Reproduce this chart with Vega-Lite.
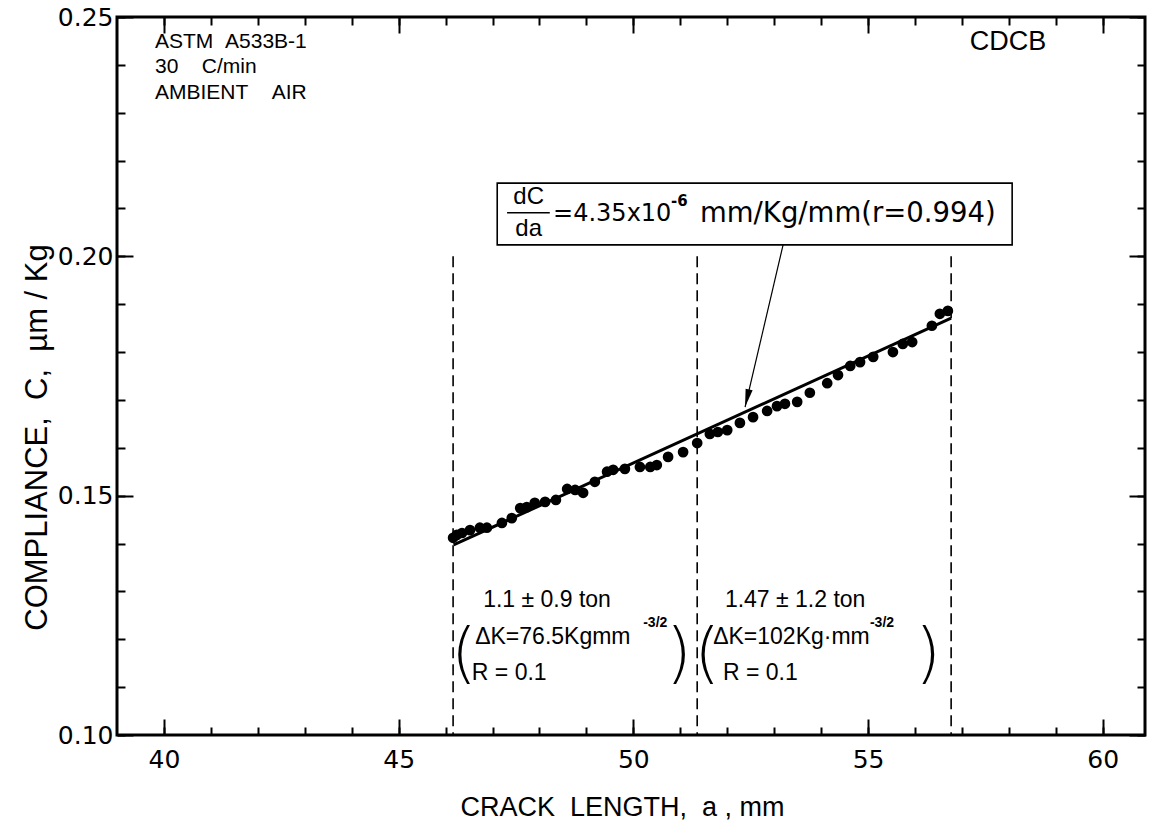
{
  "$schema": "https://vega.github.io/schema/vega-lite/v6.json",
  "width": 1028,
  "height": 718,
  "autosize": {"type": "none"},
  "padding": {"left": 117, "top": 17, "right": 7, "bottom": 96},
  "background": "white",
  "view": {"stroke": "black", "strokeWidth": 3},
  "data": {"values": [{}]},
  "config": {
    "axis": {
      "labelFont": "DejaVu Sans",
      "labelFontSize": 25,
      "labelColor": "black",
      "tickColor": "black",
      "tickWidth": 2,
      "domain": false,
      "grid": false,
      "titleFont": "Liberation Sans",
      "titleFontSize": 27,
      "titleFontWeight": "normal",
      "titleColor": "black"
    }
  },
  "resolve": {"axis": {"x": "independent", "y": "independent"}},
  "layer": [
    {
      "data": {"values": [
        {"a": 46.16, "C": 0.1412}, {"a": 46.24, "C": 0.1418}, {"a": 46.35, "C": 0.1422},
        {"a": 46.52, "C": 0.1428}, {"a": 46.73, "C": 0.1433}, {"a": 46.88, "C": 0.1433},
        {"a": 47.20, "C": 0.1443}, {"a": 47.41, "C": 0.1453}, {"a": 47.59, "C": 0.1474},
        {"a": 47.73, "C": 0.1476}, {"a": 47.90, "C": 0.1485}, {"a": 48.12, "C": 0.1487},
        {"a": 48.35, "C": 0.1491}, {"a": 48.59, "C": 0.1514}, {"a": 48.76, "C": 0.1512},
        {"a": 48.93, "C": 0.1506}, {"a": 49.18, "C": 0.1529}, {"a": 49.44, "C": 0.1550},
        {"a": 49.57, "C": 0.1554}, {"a": 49.82, "C": 0.1556}, {"a": 50.14, "C": 0.1560},
        {"a": 50.36, "C": 0.1560}, {"a": 50.50, "C": 0.1564}, {"a": 50.74, "C": 0.1581},
        {"a": 51.06, "C": 0.1591}, {"a": 51.36, "C": 0.1610}, {"a": 51.63, "C": 0.1629},
        {"a": 51.80, "C": 0.1633}, {"a": 52.00, "C": 0.1637}, {"a": 52.27, "C": 0.1652},
        {"a": 52.55, "C": 0.1664}, {"a": 52.85, "C": 0.1677}, {"a": 53.06, "C": 0.1687},
        {"a": 53.23, "C": 0.1692}, {"a": 53.49, "C": 0.1696}, {"a": 53.76, "C": 0.1715},
        {"a": 54.13, "C": 0.1735}, {"a": 54.36, "C": 0.1752}, {"a": 54.62, "C": 0.1771},
        {"a": 54.83, "C": 0.1779}, {"a": 55.11, "C": 0.1790}, {"a": 55.53, "C": 0.1800},
        {"a": 55.74, "C": 0.1817}, {"a": 55.94, "C": 0.1821}, {"a": 56.36, "C": 0.1855},
        {"a": 56.53, "C": 0.1880}, {"a": 56.70, "C": 0.1886}
      ]},
      "mark": {"type": "point", "shape": "circle", "filled": true, "color": "black", "opacity": 1, "size": 115},
      "encoding": {
        "x": {"field": "a", "type": "quantitative",
          "scale": {"domain": [39, 60.9], "nice": false, "zero": false},
          "axis": {"orient": "bottom", "values": [40, 45, 50, 55, 60], "tickSize": -16, "labelPadding": 28,
            "title": "CRACK\u00a0\u00a0LENGTH,\u00a0\u00a0a\u00a0,\u00a0mm", "titlePadding": 22, "titleX": 505, "titleAlign": "center"}},
        "y": {"field": "C", "type": "quantitative",
          "scale": {"domain": [0.10, 0.25], "nice": false, "zero": false},
          "axis": {"orient": "left", "values": [0.10, 0.15, 0.20, 0.25], "format": ".2f", "tickSize": -16, "labelPadding": 20,
            "title": "COMPLIANCE,\u00a0\u00a0C,\u00a0\u00a0µm\u00a0/\u00a0Kg", "titleFontSize": 31, "titleX": -80, "titleY": 420, "titleAlign": "center", "titleBaseline": "middle", "titleAngle": -90}}
      }
    },
    {
      "data": {"values": [{"a": 46.17, "C": 0.1397}, {"a": 56.77, "C": 0.1871}]},
      "mark": {"type": "line", "color": "black", "strokeWidth": 3},
      "encoding": {
        "x": {"field": "a", "type": "quantitative",
          "axis": {"orient": "bottom", "values": [40,41,42,43,44,45,46,47,48,49,50,51,52,53,54,55,56,57,58,59,60], "labels": false, "tickSize": -8, "title": null}},
        "y": {"field": "C", "type": "quantitative",
          "axis": {"orient": "left", "values": [0.10,0.11,0.12,0.13,0.14,0.15,0.16,0.17,0.18,0.19,0.20,0.21,0.22,0.23,0.24,0.25], "labels": false, "tickSize": -8, "title": null}}
      }
    },
    {
      "data": {"values": [{"a": 46.16}, {"a": 51.36}, {"a": 56.77}]},
      "mark": {"type": "rule", "color": "black", "strokeWidth": 1.6, "strokeDash": [11, 6]},
      "encoding": {
        "x": {"field": "a", "type": "quantitative",
          "axis": {"orient": "top", "values": [40, 45, 50, 55, 60], "labels": false, "tickSize": -16, "title": null}},
        "y": {"datum": 0.20, "type": "quantitative",
          "axis": {"orient": "right", "values": [0.10, 0.15, 0.20, 0.25], "labels": false, "tickSize": -16, "title": null}},
        "y2": {"datum": 0.10}
      }
    },
    {
      "mark": {"type": "rect", "fill": "white", "stroke": "black", "strokeWidth": 1.6},
      "encoding": {
        "x": {"datum": 47.10, "type": "quantitative",
          "axis": {"orient": "top", "values": [40,41,42,43,44,45,46,47,48,49,50,51,52,53,54,55,56,57,58,59,60], "labels": false, "tickSize": -8, "title": null}},
        "x2": {"datum": 58.07},
        "y": {"datum": 0.2153, "type": "quantitative",
          "axis": {"orient": "right", "values": [0.10,0.11,0.12,0.13,0.14,0.15,0.16,0.17,0.18,0.19,0.20,0.21,0.22,0.23,0.24,0.25], "labels": false, "tickSize": -8, "title": null}},
        "y2": {"datum": 0.2024}
      }
    },
    {
      "mark": {"type": "rule", "color": "black", "strokeWidth": 1.5},
      "encoding": {
        "x": {"datum": 47.31, "type": "quantitative", "axis": null},
        "x2": {"datum": 48.22},
        "y": {"datum": 0.2091, "type": "quantitative", "axis": null}
      }
    },
    {
      "mark": {"type": "text", "text": "dC", "align": "center", "baseline": "middle", "font": "Liberation Sans", "fontSize": 24, "color": "black"},
      "encoding": {"x": {"datum": 47.77, "type": "quantitative", "axis": null}, "y": {"datum": 0.2124, "type": "quantitative", "axis": null}}
    },
    {
      "mark": {"type": "text", "text": "da", "align": "center", "baseline": "middle", "font": "Liberation Sans", "fontSize": 24, "color": "black"},
      "encoding": {"x": {"datum": 47.77, "type": "quantitative", "axis": null}, "y": {"datum": 0.2057, "type": "quantitative", "axis": null}}
    },
    {
      "mark": {"type": "text", "text": "=4.35x10", "align": "left", "baseline": "middle", "font": "DejaVu Sans", "fontSize": 24, "color": "black"},
      "encoding": {"x": {"datum": 48.29, "type": "quantitative", "axis": null}, "y": {"datum": 0.2089, "type": "quantitative", "axis": null}}
    },
    {
      "mark": {"type": "text", "text": "-6", "align": "left", "baseline": "middle", "font": "DejaVu Sans", "fontSize": 15, "fontWeight": "bold", "color": "black"},
      "encoding": {"x": {"datum": 50.80, "type": "quantitative", "axis": null}, "y": {"datum": 0.2116, "type": "quantitative", "axis": null}}
    },
    {
      "mark": {"type": "text", "text": "mm/Kg/mm(r=0.994)", "align": "left", "baseline": "middle", "font": "DejaVu Sans", "fontSize": 27.5, "color": "black"},
      "encoding": {"x": {"datum": 51.42, "type": "quantitative", "axis": null}, "y": {"datum": 0.2089, "type": "quantitative", "axis": null}}
    },
    {
      "mark": {"type": "rule", "color": "black", "strokeWidth": 1.2},
      "encoding": {
        "x": {"datum": 53.19, "type": "quantitative", "axis": null},
        "x2": {"datum": 52.38},
        "y": {"datum": 0.2024, "type": "quantitative", "axis": null},
        "y2": {"datum": 0.1685}
      }
    },
    {
      "mark": {"type": "point", "shape": "M0,0L-0.2,-1L0.2,-1Z", "filled": true, "color": "black", "opacity": 1, "size": 1300, "angle": 13},
      "encoding": {"x": {"datum": 52.38, "type": "quantitative", "axis": null}, "y": {"datum": 0.1685, "type": "quantitative", "axis": null}}
    },
    {
      "mark": {"type": "text", "text": "ASTM\u00a0\u00a0A533B-1", "align": "left", "baseline": "middle", "font": "Liberation Sans", "fontSize": 21, "color": "black"},
      "encoding": {"x": {"datum": 39.81, "type": "quantitative", "axis": null}, "y": {"datum": 0.2448, "type": "quantitative", "axis": null}}
    },
    {
      "mark": {"type": "text", "text": "30\u00a0\u00a0\u00a0\u00a0C/min", "align": "left", "baseline": "middle", "font": "Liberation Sans", "fontSize": 21, "color": "black"},
      "encoding": {"x": {"datum": 39.81, "type": "quantitative", "axis": null}, "y": {"datum": 0.2396, "type": "quantitative", "axis": null}}
    },
    {
      "mark": {"type": "text", "text": "AMBIENT\u00a0\u00a0\u00a0\u00a0AIR", "align": "left", "baseline": "middle", "font": "Liberation Sans", "fontSize": 21, "color": "black"},
      "encoding": {"x": {"datum": 39.81, "type": "quantitative", "axis": null}, "y": {"datum": 0.2341, "type": "quantitative", "axis": null}}
    },
    {
      "mark": {"type": "text", "text": "CDCB", "align": "center", "baseline": "middle", "font": "Liberation Sans", "fontSize": 27, "color": "black"},
      "encoding": {"x": {"datum": 57.98, "type": "quantitative", "axis": null}, "y": {"datum": 0.2448, "type": "quantitative", "axis": null}}
    },
    {
      "mark": {"type": "text", "text": "1.1 ± 0.9 ton", "align": "left", "baseline": "middle", "font": "Liberation Sans", "fontSize": 23, "color": "black"},
      "encoding": {"x": {"datum": 46.80, "type": "quantitative", "axis": null}, "y": {"datum": 0.1282, "type": "quantitative", "axis": null}}
    },
    {
      "mark": {"type": "text", "text": "ΔK=76.5Kgmm", "align": "left", "baseline": "middle", "font": "Liberation Sans", "fontSize": 23, "color": "black"},
      "encoding": {"x": {"datum": 46.63, "type": "quantitative", "axis": null}, "y": {"datum": 0.1205, "type": "quantitative", "axis": null}}
    },
    {
      "mark": {"type": "text", "text": "-3/2", "align": "left", "baseline": "middle", "font": "Liberation Sans", "fontSize": 14, "fontWeight": "bold", "color": "black"},
      "encoding": {"x": {"datum": 50.21, "type": "quantitative", "axis": null}, "y": {"datum": 0.1234, "type": "quantitative", "axis": null}}
    },
    {
      "mark": {"type": "text", "text": "R = 0.1", "align": "left", "baseline": "middle", "font": "Liberation Sans", "fontSize": 23, "color": "black"},
      "encoding": {"x": {"datum": 46.56, "type": "quantitative", "axis": null}, "y": {"datum": 0.1130, "type": "quantitative", "axis": null}}
    },
    {
      "mark": {"type": "text", "text": "(", "align": "center", "baseline": "middle", "font": "DejaVu Sans", "fontWeight": 200, "fontSize": 66, "color": "black"},
      "encoding": {"x": {"datum": 46.39, "type": "quantitative", "axis": null}, "y": {"datum": 0.1167, "type": "quantitative", "axis": null}}
    },
    {
      "mark": {"type": "text", "text": ")", "align": "center", "baseline": "middle", "font": "DejaVu Sans", "fontWeight": 200, "fontSize": 66, "color": "black"},
      "encoding": {"x": {"datum": 50.97, "type": "quantitative", "axis": null}, "y": {"datum": 0.1167, "type": "quantitative", "axis": null}}
    },
    {
      "mark": {"type": "text", "text": "1.47 ± 1.2 ton", "align": "left", "baseline": "middle", "font": "Liberation Sans", "fontSize": 23, "color": "black"},
      "encoding": {"x": {"datum": 51.95, "type": "quantitative", "axis": null}, "y": {"datum": 0.1282, "type": "quantitative", "axis": null}}
    },
    {
      "mark": {"type": "text", "text": "ΔK=102Kg·mm", "align": "left", "baseline": "middle", "font": "Liberation Sans", "fontSize": 23, "color": "black"},
      "encoding": {"x": {"datum": 51.70, "type": "quantitative", "axis": null}, "y": {"datum": 0.1205, "type": "quantitative", "axis": null}}
    },
    {
      "mark": {"type": "text", "text": "-3/2", "align": "left", "baseline": "middle", "font": "Liberation Sans", "fontSize": 14, "fontWeight": "bold", "color": "black"},
      "encoding": {"x": {"datum": 55.04, "type": "quantitative", "axis": null}, "y": {"datum": 0.1234, "type": "quantitative", "axis": null}}
    },
    {
      "mark": {"type": "text", "text": "R = 0.1", "align": "left", "baseline": "middle", "font": "Liberation Sans", "fontSize": 23, "color": "black"},
      "encoding": {"x": {"datum": 51.91, "type": "quantitative", "axis": null}, "y": {"datum": 0.1130, "type": "quantitative", "axis": null}}
    },
    {
      "mark": {"type": "text", "text": "(", "align": "center", "baseline": "middle", "font": "DejaVu Sans", "fontWeight": 200, "fontSize": 66, "color": "black"},
      "encoding": {"x": {"datum": 51.57, "type": "quantitative", "axis": null}, "y": {"datum": 0.1167, "type": "quantitative", "axis": null}}
    },
    {
      "mark": {"type": "text", "text": ")", "align": "center", "baseline": "middle", "font": "DejaVu Sans", "fontWeight": 200, "fontSize": 66, "color": "black"},
      "encoding": {"x": {"datum": 56.28, "type": "quantitative", "axis": null}, "y": {"datum": 0.1167, "type": "quantitative", "axis": null}}
    }
  ]
}
